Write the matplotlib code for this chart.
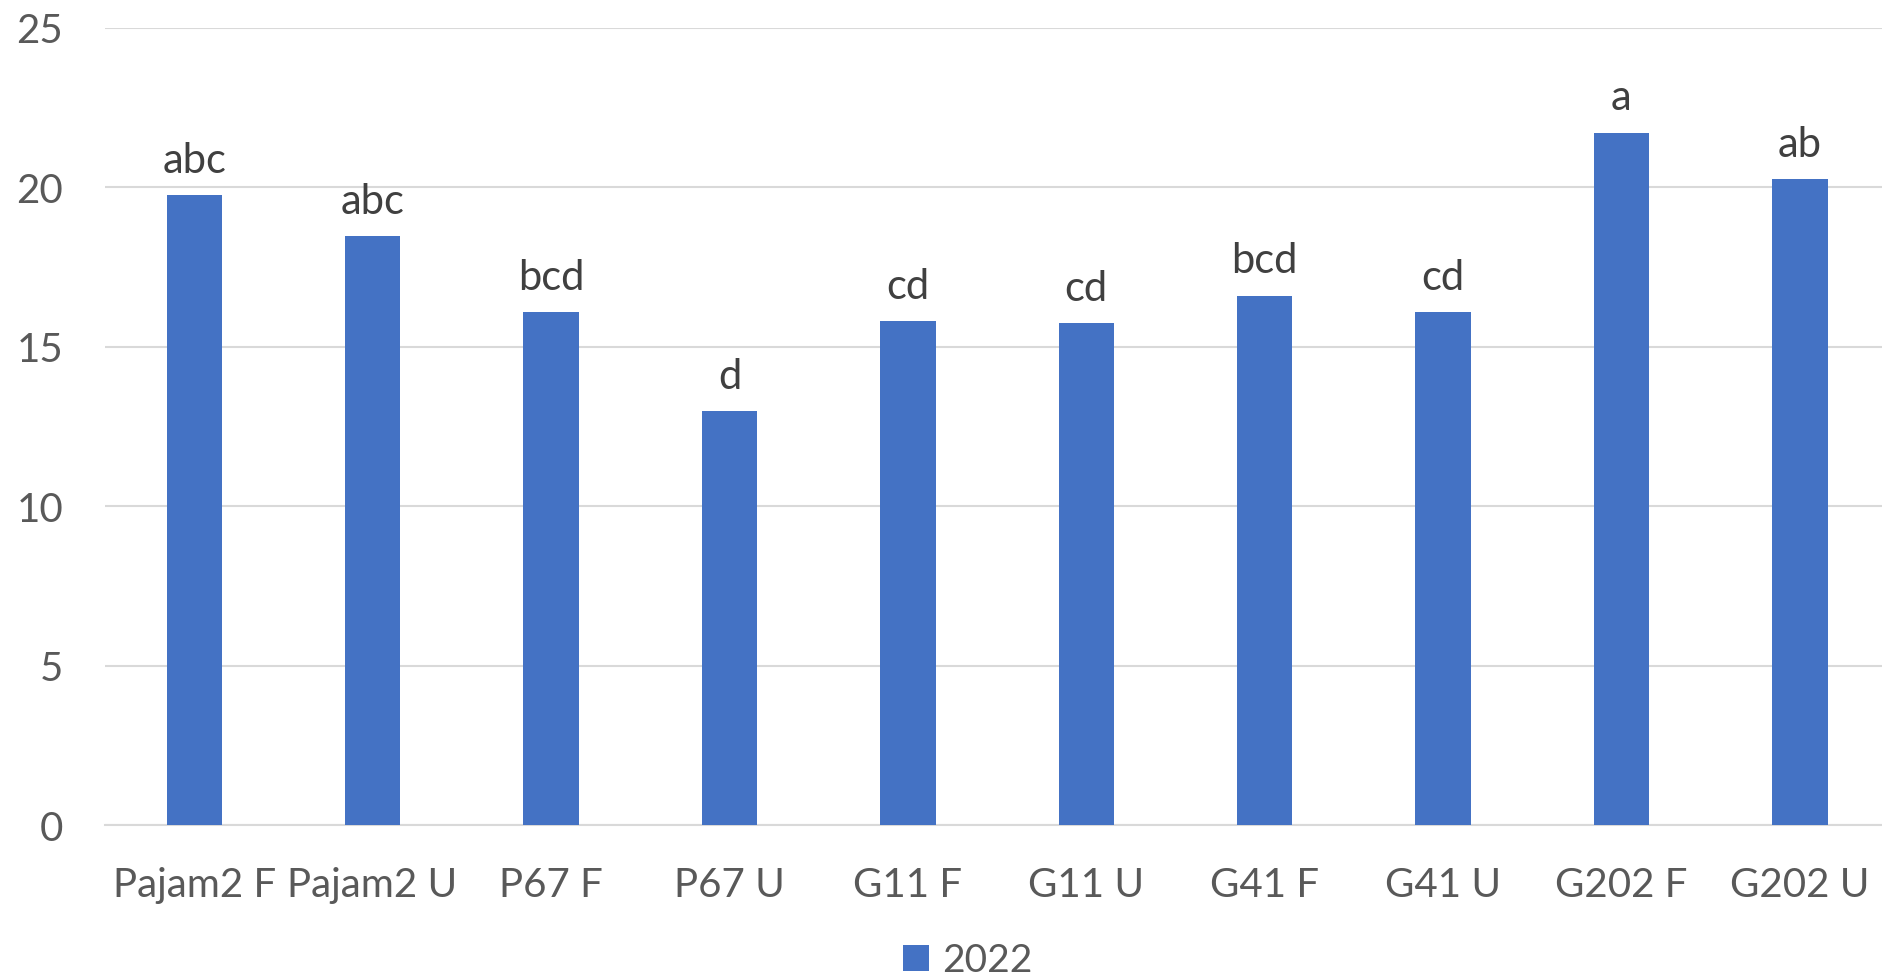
import matplotlib.pyplot as plt
import numpy as np

# data
categories = ['Pajam2 F', 'Pajam2 U', 'P67 F', 'P67 U', 'G11 F',
              'G11 U', 'G41 F', 'G41 U', 'G202 F', 'G202 U']
values_2022 = [19.77, 18.48, 16.08, 12.99, 15.81, 15.74, 16.61, 16.08, 21.72, 20.27]
letters = ['abc', 'abc', 'bcd', 'd', 'cd', 'cd', 'bcd', 'cd', 'a', 'ab']
series_name = '2022'

plt.rcParams['font.family'] = ['Lato', 'DejaVu Sans']

W, H = 1882, 979
fig = plt.figure(figsize=(W / 100 + 0.001, H / 100 + 0.001), dpi=100)
# axes box in pixel coordinates of the reference
left, right, top, bottom = 105, 1889, 28, 825.5
ax = fig.add_axes([left / W, 1 - bottom / H, (right - left) / W, (bottom - top) / H])

x = np.arange(len(categories))
bars = ax.bar(x, values_2022, width=0.31, color='#4472C4', label=series_name, zorder=3)

for xi, v, lab in zip(x, values_2022, letters):
    ax.annotate(lab, (xi, v), xytext=(0, 11), textcoords='offset points',
                ha='center', va='bottom', fontsize=30, color='#404040')

ax.set_xlim(-0.5, len(categories) - 0.5)
ax.set_ylim(0, 25)
ax.set_yticks(np.arange(0, 26, 5))
ax.yaxis.grid(True, color='#d9d9d9', linewidth=1.5, zorder=0)
ax.set_axisbelow(True)

for s in ['top', 'right', 'left']:
    ax.spines[s].set_visible(False)
ax.spines['bottom'].set_color('#d9d9d9')
ax.spines['bottom'].set_linewidth(1.5)

ax.set_xticks(x)
ax.set_xticklabels(categories)
ax.tick_params(axis='x', length=0, pad=30, labelsize=29, labelcolor='#595959')
ax.tick_params(axis='y', length=0, pad=30, labelsize=29, labelcolor='#595959')

fig.legend(handles=[bars], labels=[series_name], loc='center',
           bbox_to_anchor=(968 / W, 1 - 961 / H), borderaxespad=0, borderpad=0,
           frameon=False, fontsize=28, labelcolor='#595959',
           handlelength=0.65, handleheight=0.65, handletextpad=0.35)

fig.savefig('out.png', dpi=100)
